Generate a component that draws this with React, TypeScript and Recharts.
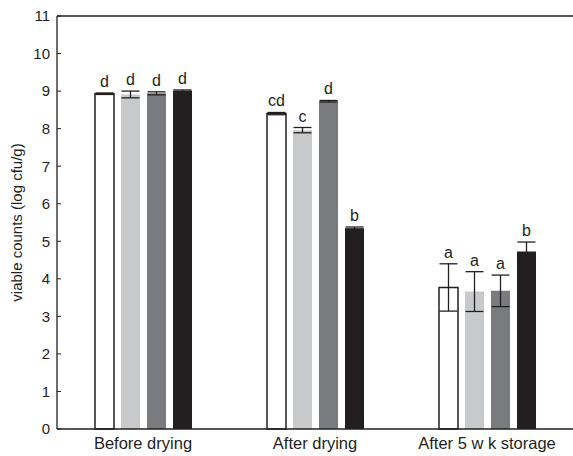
import { BarChart, Bar, XAxis, YAxis, ErrorBar, LabelList, ReferenceLine } from "recharts";

const categories = ["Before drying", "After drying", "After 5 w k storage"];

const white = [8.93, 8.4, 3.77];
const whiteErr = [0.02, 0.03, 0.63];
const whiteLetters = ["d", "cd", "a"];

const light = [8.91, 7.96, 3.66];
const lightErr = [0.09, 0.07, 0.53];
const lightLetters = ["d", "c", "a"];

const grey = [8.94, 8.73, 3.68];
const greyErr = [0.04, 0.02, 0.42];
const greyLetters = ["d", "d", "a"];

const black = [9.01, 5.35, 4.73];
const blackErr = [0.02, 0.03, 0.25];
const blackLetters = ["d", "b", "b"];

const yTicks = [0, 1, 2, 3, 4, 5, 6, 7, 8, 9, 10, 11];

const data = categories.map((name, i) => ({
  name,
  v1: white[i], e1: whiteErr[i], l1: whiteLetters[i],
  v2: light[i], e2: lightErr[i], l2: lightLetters[i],
  v3: grey[i], e3: greyErr[i], l3: greyLetters[i],
  v4: black[i], e4: blackErr[i], l4: blackLetters[i],
}));

const INK = "#231f20";
const FONT = "Arial, 'Liberation Sans', sans-serif";

// letters sit just above the error bar cap
function letter(errs: number[], values: number[]) {
  return (props: any) => {
    const { x, y, width, height, value, index } = props;
    const pxPerUnit = height / values[index];
    const top = y - errs[index] * pxPerUnit;
    return (
      <text x={x + width / 2} y={top - 6} textAnchor="middle" fontSize={16} fontFamily={FONT} fill={INK}>
        {value}
      </text>
    );
  };
}

function YLabel(props: any) {
  const vb = props.viewBox || {};
  const cx = 18;
  const cy = (vb.y ?? 16) + (vb.height ?? 413) / 2;
  return (
    <text
      x={cx}
      y={cy}
      transform={`rotate(-90, ${cx}, ${cy})`}
      textAnchor="middle"
      dominantBaseline="middle"
      fontSize={15}
      fontFamily={FONT}
      fill={INK}
    >
      viable counts (log cfu/g)
    </text>
  );
}

export default function App() {
  return (
    <div>
      <style>{"body{margin:0}"}</style>
      <BarChart
        width={573}
        height={456}
        data={data}
        margin={{ top: 16, right: 0, bottom: 0, left: 0 }}
        barSize={19}
        barGap={7}
      >
        <XAxis
          dataKey="name"
          height={27}
          tickLine={false}
          tickSize={0}
          tickMargin={8}
          axisLine={{ stroke: INK, strokeWidth: 1.3 }}
          tick={{ fontSize: 16.5, fontFamily: FONT, fill: INK }}
        />
        <YAxis
          width={57}
          domain={[0, 11]}
          ticks={yTicks}
          interval={0}
          tickSize={-4}
          tickMargin={11}
          tickLine={{ stroke: INK }}
          axisLine={{ stroke: INK, strokeWidth: 1.3 }}
          tick={{ fontSize: 15, fontFamily: FONT, fill: INK }}
          label={<YLabel />}
        />
        <ReferenceLine y={11} stroke={INK} strokeWidth={1.3} />
        <Bar dataKey="v1" fill="#ffffff" stroke={INK} strokeWidth={1.5} isAnimationActive={false}>
          <ErrorBar dataKey="e1" width={9} stroke={INK} strokeWidth={1.3} />
          <LabelList dataKey="l1" content={letter(whiteErr, white)} />
        </Bar>
        <Bar dataKey="v2" fill="#c8c9cb" isAnimationActive={false}>
          <ErrorBar dataKey="e2" width={9} stroke={INK} strokeWidth={1.3} />
          <LabelList dataKey="l2" content={letter(lightErr, light)} />
        </Bar>
        <Bar dataKey="v3" fill="#7a7b7e" isAnimationActive={false}>
          <ErrorBar dataKey="e3" width={9} stroke={INK} strokeWidth={1.3} />
          <LabelList dataKey="l3" content={letter(greyErr, grey)} />
        </Bar>
        <Bar dataKey="v4" fill={INK} isAnimationActive={false}>
          <ErrorBar dataKey="e4" width={9} stroke={INK} strokeWidth={1.3} />
          <LabelList dataKey="l4" content={letter(blackErr, black)} />
        </Bar>
      </BarChart>
    </div>
  );
}
